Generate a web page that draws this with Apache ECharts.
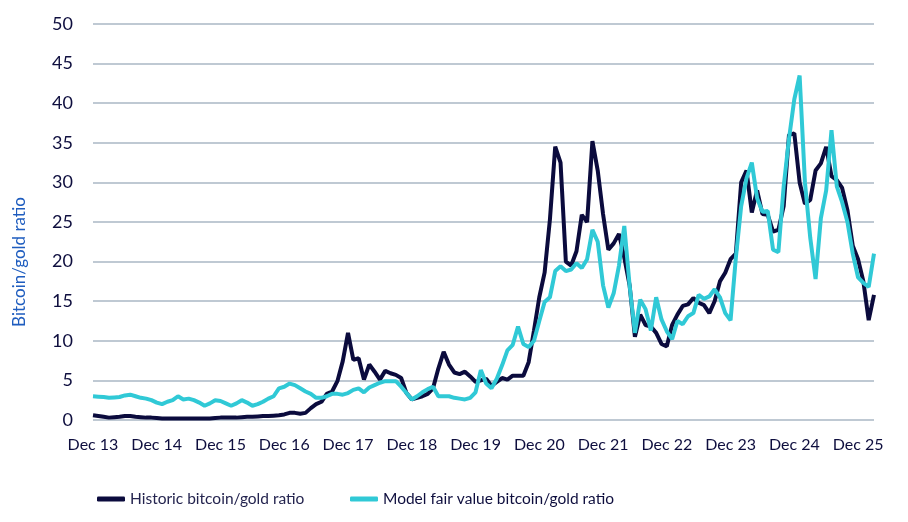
<!DOCTYPE html>
<html>
<head>
<meta charset="utf-8">
<script src="https://cdn.jsdelivr.net/npm/echarts@6/dist/echarts.min.js"></script>
<style>
html,body{margin:0;padding:0;background:#fff;}
#c{width:908px;height:522px;}
</style>
</head>
<body>
<div id="c"></div>
<script>
// Monthly, Dec 2013 .. Mar 2026
const monthNames = ['Jan','Feb','Mar','Apr','May','Jun','Jul','Aug','Sep','Oct','Nov','Dec'];
const startYear = 2013, startMonth = 11, nMonths = 148;
const categories = [];
for (let k = 0; k < nMonths; k++) {
  const m = (startMonth + k) % 12;
  const y = startYear + Math.floor((startMonth + k) / 12);
  categories.push(monthNames[m] + ' ' + String(y % 100).padStart(2, '0'));
}

const historicRatio = [
  0.6,0.5,0.4,0.3,0.35,0.4,0.5,0.5,0.4,0.35,0.3,0.3,
  0.25,0.2,0.2,0.2,0.2,0.2,0.2,0.2,0.2,0.2,0.2,0.25,
  0.3,0.3,0.3,0.3,0.35,0.4,0.4,0.45,0.5,0.5,0.55,0.6,
  0.7,0.9,0.9,0.8,0.9,1.5,2.0,2.3,3.3,3.6,4.9,7.4,
  11.0,7.6,7.8,5.1,7.0,6.1,5.1,6.2,5.9,5.7,5.3,3.4,
  2.6,2.8,3.0,3.3,4.0,6.5,8.6,7.0,6.0,5.8,6.1,5.5,
  4.8,5.0,5.2,4.3,4.8,5.3,5.1,5.6,5.6,5.6,7.3,11.3,
  15.5,18.6,25.3,34.5,32.5,20.0,19.5,21.3,25.9,25.0,35.2,31.5,
  26.0,21.5,22.3,23.5,20.5,17.0,10.5,13.3,12.0,11.8,11.0,9.6,
  9.3,12.0,13.3,14.4,14.6,15.4,14.8,14.5,13.5,15.0,17.5,18.6,
  20.3,21.0,30.0,31.5,26.2,29.0,26.0,25.9,23.8,24.0,27.0,36.0,
  36.2,30.0,27.3,27.8,31.5,32.4,34.5,30.8,30.3,29.3,26.5,22.0,
  20.3,17.5,12.6,15.8
];

const modelRatio = [
  3.0,2.95,2.9,2.8,2.85,2.9,3.1,3.2,3.0,2.8,2.7,2.5,
  2.2,2.0,2.3,2.5,3.0,2.6,2.7,2.5,2.2,1.8,2.1,2.5,
  2.4,2.1,1.8,2.1,2.5,2.2,1.8,2.0,2.3,2.7,3.0,4.0,
  4.2,4.6,4.4,4.0,3.6,3.3,2.8,2.8,3.0,3.3,3.3,3.2,
  3.4,3.8,4.0,3.5,4.1,4.4,4.7,4.9,4.9,4.9,4.2,3.4,
  2.6,3.0,3.5,3.9,4.2,3.0,3.0,3.0,2.8,2.7,2.6,2.8,
  3.5,6.3,4.6,4.0,5.2,6.9,8.8,9.5,11.8,9.6,9.2,10.0,
  12.5,14.9,15.5,18.8,19.4,18.8,19.0,19.8,19.2,20.3,24.0,22.5,
  17.0,14.2,16.0,19.5,24.5,17.0,11.0,15.2,14.0,11.3,15.5,12.7,
  11.2,10.2,12.5,12.1,13.1,13.5,15.8,15.3,15.6,16.5,15.5,13.5,
  12.6,20.5,27.0,30.5,32.5,28.0,26.3,26.4,21.5,21.2,29.5,35.5,
  40.5,43.5,30.0,23.0,17.8,25.5,29.0,36.6,29.5,27.5,25.0,21.0,
  18.0,17.3,16.8,21.0
];

const seriesNames = ['Historic bitcoin/gold ratio', 'Model fair value bitcoin/gold ratio'];
const yAxisTitle = 'Bitcoin/gold ratio';

const navy = '#0b0b3d';
const teal = '#30c9d6';
const textColor = '#0e0e3e';
const font = 'Lato, "Open Sans", sans-serif';

const chart = echarts.init(document.getElementById('c'), null, {renderer: 'canvas'});
chart.setOption({
  animation: false,
  backgroundColor: '#ffffff',
  grid: {left: 93, right: 34, top: 24, bottom: 102, containLabel: false},
  legend: [
    {data: [seriesNames[0]], left: 92, top: 486, icon: 'roundRect', itemWidth: 28, itemHeight: 5, itemGap: 3,
     textStyle: {color: '#24244f', fontFamily: font, fontSize: 15.5}},
    {data: [seriesNames[1]], left: 345, top: 486, icon: 'roundRect', itemWidth: 28, itemHeight: 5, itemGap: 3,
     textStyle: {color: '#0e0e3e', fontFamily: font, fontSize: 15.5}}
  ],
  xAxis: {
    type: 'category',
    data: categories,
    boundaryGap: false,
    axisLine: {show: false},
    axisTick: {show: false},
    axisLabel: {interval: 11, color: textColor, fontFamily: font, fontSize: 16, margin: 17},
    splitLine: {show: false}
  },
  yAxis: {
    type: 'value',
    min: 0, max: 50, interval: 5,
    axisLine: {show: false},
    axisTick: {show: false},
    axisLabel: {color: textColor, fontFamily: font, fontSize: 18, margin: 20},
    splitLine: {lineStyle: {color: '#aab7c4', width: 1.5}}
  },
  graphic: [{
    type: 'text',
    x: 20, y: 262,
    rotation: Math.PI / 2,
    style: {text: yAxisTitle, fill: '#1f5dbf', font: '17px Lato, "Open Sans", sans-serif',
            align: 'center', verticalAlign: 'middle'}
  }],
  series: [
    {name: seriesNames[0], type: 'line', data: historicRatio, symbol: 'none', smooth: false,
     lineStyle: {color: navy, width: 4}, itemStyle: {color: navy}, z: 2},
    {name: seriesNames[1], type: 'line', data: modelRatio, symbol: 'none', smooth: false,
     lineStyle: {color: teal, width: 4}, itemStyle: {color: teal}, z: 3}
  ]
});
</script>
</body>
</html>
